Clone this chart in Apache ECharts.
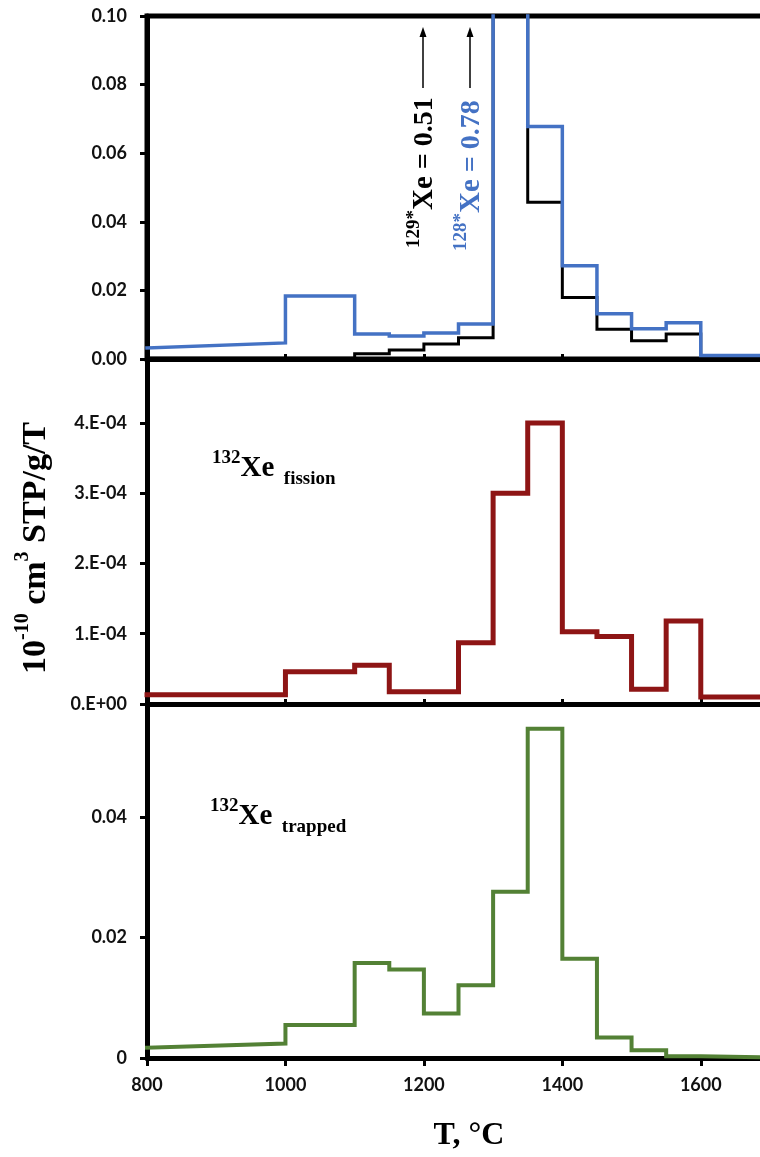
<!DOCTYPE html>
<html>
<head>
<meta charset="utf-8">
<script src="https://cdn.jsdelivr.net/npm/echarts@6/dist/echarts.min.js"></script>
<style>html,body{margin:0;padding:0;background:#fff;}#chart{width:760px;height:1157px;}</style>
</head>
<body>
<div id="chart"></div>
<script>
// Step edges (°C); each series gives one value per interval between consecutive edges.
// A [start, end] pair means the line slopes across that interval.
const temps = [800, 1000, 1100, 1150, 1200, 1250, 1300, 1350, 1400, 1450, 1500, 1550, 1600, 1700];
const xe129 = [0.0002, 0.0002, 0.0015, 0.0026, 0.0044, 0.0062, 0.51, 0.0457, 0.0179, 0.0087, 0.0053, 0.0073, 0.0002];
const xe128 = [[0.0032, 0.0047], 0.0184, 0.0073, 0.0067, 0.0076, 0.0102, 0.78, 0.0678, 0.0272, 0.0132, 0.0088, 0.0106, 0.0010];
const xe132fission = [0.000013, 0.000046, 0.000055, 0.0000175, 0.0000175, 0.000087, 0.000300, 0.000400, 0.000103, 0.000096, 0.000021, 0.000118, 0.000010];
const xe132trapped = [[0.0017, 0.0024], 0.0055, 0.0158, 0.0147, 0.0074, 0.0121, 0.0276, 0.0547, 0.0165, 0.0034, 0.0013, 0.0003, [0.0003, 0.0001]];
const xTicks = [800, 1000, 1200, 1400, 1600];
const peakLabels = { xe129: '0.51', xe128: '0.78' };

function stepPoints(vals) {
  const pts = [];
  vals.forEach((v, i) => {
    const a = Array.isArray(v) ? v[0] : v;
    const b = Array.isArray(v) ? v[1] : v;
    pts.push([temps[i], a]);
    pts.push([temps[i + 1], b]);
  });
  return pts;
}

const chart = echarts.init(document.getElementById('chart'));
const tickFont = { fontFamily: 'Lato', fontWeight: 'bold', fontSize: 18, color: '#111' };
const serif = 'Liberation Serif';

function xAxisCfg(idx, showLabels) {
  return {
    type: 'value', gridIndex: idx, min: temps[0], max: temps[temps.length - 1], interval: 200,
    axisLine: { show: true, lineStyle: { color: '#000', width: 5 } },
    axisTick: { show: true, inside: !showLabels, length: showLabels ? 8 : 5, lineStyle: { color: '#000', width: 3 } },
    axisLabel: Object.assign({ show: showLabels, margin: 18, showMaxLabel: false,
      formatter: v => xTicks.includes(v) ? String(v) : '' }, tickFont),
    splitLine: { show: false }
  };
}
function yAxisCfg(idx, max, interval, fmt) {
  return {
    type: 'value', gridIndex: idx, min: 0, max: max, interval: interval,
    axisLine: { show: true, lineStyle: { color: '#000', width: 5 } },
    axisTick: { show: true, inside: false, length: 7, lineStyle: { color: '#000', width: 3 } },
    axisLabel: Object.assign({ margin: 20, showMaxLabel: max === 0.1, formatter: fmt }, tickFont),
    splitLine: { show: false }
  };
}

const fmt1 = v => v.toFixed(2);
const fmt2 = v => {
  const m = Math.round(v / 1e-4);
  return m === 0 ? '0.E+00' : m + '.E-04';
};
const fmt3 = v => {
  const r = Math.round(v * 100) / 100;
  return r === 0 ? '0' : r.toFixed(2);
};

function labelText(x, y, rotate, color, txt) {
  return {
    type: 'text', x: x, y: y, rotation: rotate ? Math.PI / 2 : 0,
    style: {
      text: txt, align: 'left', verticalAlign: 'middle',
      rich: {
        s: { fontFamily: serif, fontWeight: 'bold', fontSize: 19, fill: color, verticalAlign: 'top' },
        b: { fontFamily: serif, fontWeight: 'bold', fontSize: 29, lineHeight: 40, fill: color, verticalAlign: 'middle' },
        b2: { fontFamily: serif, fontWeight: 'bold', fontSize: 28, lineHeight: 40, fill: color, verticalAlign: 'middle' },
        sub: { fontFamily: serif, fontWeight: 'bold', fontSize: 19, fill: color, verticalAlign: 'bottom' }
      }
    }
  };
}

const gridBase = { left: 147, width: 623, outerBoundsMode: 'none', containLabel: false };
const option = {
  backgroundColor: '#fff',
  animation: false,
  grid: [
    Object.assign({ top: 16, height: 343, show: true, borderColor: '#000', borderWidth: 5, backgroundColor: 'transparent' }, gridBase),
    Object.assign({ top: 359, height: 345 }, gridBase),
    Object.assign({ top: 704, height: 354 }, gridBase)
  ],
  xAxis: [xAxisCfg(0, false), xAxisCfg(1, false), xAxisCfg(2, true)],
  yAxis: [
    yAxisCfg(0, 0.1, 0.02, fmt1),
    yAxisCfg(1, 0.000491, 0.0001, fmt2),
    yAxisCfg(2, 0.0588, 0.02, fmt3)
  ],
  series: [
    { type: 'line', name: '129*Xe', xAxisIndex: 0, yAxisIndex: 0, data: stepPoints(xe129), symbol: 'none',
      lineStyle: { color: '#000', width: 3, join: 'miter', cap: 'square' }, clip: true, z: 3 },
    { type: 'line', name: '128*Xe', xAxisIndex: 0, yAxisIndex: 0, data: stepPoints(xe128), symbol: 'none',
      lineStyle: { color: '#4472C4', width: 3.5, join: 'miter', cap: 'square' }, clip: true, z: 4 },
    { type: 'line', name: '132Xe fission', xAxisIndex: 1, yAxisIndex: 1, data: stepPoints(xe132fission), symbol: 'none',
      lineStyle: { color: '#8E1515', width: 5, join: 'miter', cap: 'square' }, clip: true, z: 3 },
    { type: 'line', name: '132Xe trapped', xAxisIndex: 2, yAxisIndex: 2, data: stepPoints(xe132trapped), symbol: 'none',
      lineStyle: { color: '#538135', width: 4, join: 'miter', cap: 'square' }, clip: true, z: 3 }
  ],
  graphic: [
    {
      type: 'text', x: 36, y: 548, rotation: Math.PI / 2,
      style: {
        text: '{b|10}{s|-10}{b| cm}{s|3}{b| STP/g/T}', align: 'center', verticalAlign: 'middle',
        rich: {
          b: { fontFamily: serif, fontWeight: 'bold', fontSize: 34, lineHeight: 46, fill: '#000', verticalAlign: 'middle' },
          s: { fontFamily: serif, fontWeight: 'bold', fontSize: 20, fill: '#000', verticalAlign: 'top' }
        }
      }
    },
    {
      type: 'text', x: 469, y: 1136,
      style: { text: 'T, °C', align: 'center', verticalAlign: 'middle', fontFamily: serif, fontWeight: 'bold', fontSize: 32, fill: '#000' }
    },
    labelText(212, 469, false, '#000', '{s|132}{b|Xe}{sub|  fission}'),
    labelText(210, 817, false, '#000', '{s|132}{b|Xe}{sub|  trapped}'),
    labelText(425, 248, true, '#000', '{s|129*}{b|Xe}{b2| = ' + peakLabels.xe129 + '}'),
    labelText(472, 251, true, '#4472C4', '{s|128*}{b|Xe}{b2| = ' + peakLabels.xe128 + '}'),
    { type: 'line', shape: { x1: 423, y1: 88, x2: 423, y2: 34 }, style: { stroke: '#000', lineWidth: 1.5 } },
    { type: 'polygon', shape: { points: [[423, 27], [419.5, 37], [426.5, 37]] }, style: { fill: '#000' } },
    { type: 'line', shape: { x1: 470, y1: 88, x2: 470, y2: 34 }, style: { stroke: '#000', lineWidth: 1.5 } },
    { type: 'polygon', shape: { points: [[470, 27], [466.5, 37], [473.5, 37]] }, style: { fill: '#000' } }
  ]
};
chart.setOption(option);
</script>
</body>
</html>
